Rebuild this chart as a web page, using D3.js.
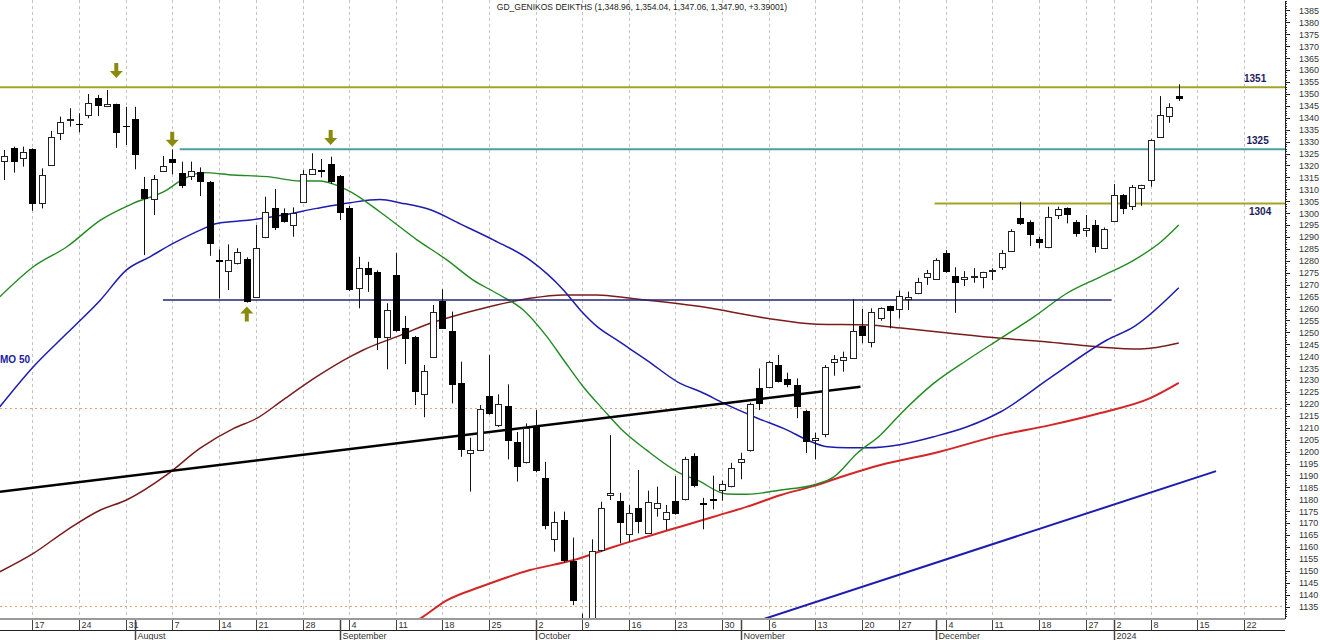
<!DOCTYPE html>
<html lang="en">
<head>
<meta charset="UTF-8">
<title>GD_GENIKOS DEIKTHS</title>
<style>
  body { margin: 0; background: #fff; }
  svg { display: block; font-family: Arial, "Liberation Sans", sans-serif; }
  .axis text { font-size: 9px; fill: #333; }
  .axis path, .axis line { stroke: #222; shape-rendering: crispEdges; }
</style>
</head>
<body>
<svg id="chart" width="1320" height="640"></svg>
<script src="https://cdn.jsdelivr.net/npm/d3@7"></script>
<script>
// trading days (plus the empty days to the right of the last candle)
const dates = [
  "2023-07-12","2023-07-13","2023-07-14","2023-07-17","2023-07-18","2023-07-19","2023-07-20","2023-07-21",
  "2023-07-24","2023-07-25","2023-07-26","2023-07-27","2023-07-28","2023-07-31",
  "2023-08-01","2023-08-02","2023-08-03","2023-08-04","2023-08-07","2023-08-08","2023-08-09","2023-08-10","2023-08-11",
  "2023-08-14","2023-08-16","2023-08-17","2023-08-18","2023-08-21","2023-08-22","2023-08-23","2023-08-24","2023-08-25",
  "2023-08-28","2023-08-29","2023-08-30","2023-08-31",
  "2023-09-01","2023-09-04","2023-09-05","2023-09-06","2023-09-07","2023-09-08","2023-09-11","2023-09-12","2023-09-13",
  "2023-09-14","2023-09-15","2023-09-18","2023-09-19","2023-09-20","2023-09-21","2023-09-22","2023-09-25","2023-09-26",
  "2023-09-27","2023-09-28","2023-09-29",
  "2023-10-02","2023-10-03","2023-10-04","2023-10-05","2023-10-06","2023-10-09","2023-10-10","2023-10-11","2023-10-12",
  "2023-10-13","2023-10-16","2023-10-17","2023-10-18","2023-10-19","2023-10-20","2023-10-23","2023-10-24","2023-10-25",
  "2023-10-26","2023-10-27","2023-10-30","2023-10-31",
  "2023-11-01","2023-11-02","2023-11-03","2023-11-06","2023-11-07","2023-11-08","2023-11-09","2023-11-10","2023-11-13",
  "2023-11-14","2023-11-15","2023-11-16","2023-11-17","2023-11-20","2023-11-21","2023-11-22","2023-11-23","2023-11-27",
  "2023-11-28","2023-11-29","2023-11-30",
  "2023-12-01","2023-12-04","2023-12-05","2023-12-06","2023-12-07","2023-12-08","2023-12-11","2023-12-12","2023-12-13",
  "2023-12-14","2023-12-15","2023-12-18","2023-12-19","2023-12-20","2023-12-21","2023-12-22","2023-12-27","2023-12-28",
  "2023-12-29",
  "2024-01-02","2024-01-03","2024-01-04","2024-01-05","2024-01-08","2024-01-09","2024-01-10","2024-01-11","2024-01-12",
  "2024-01-15","2024-01-16","2024-01-17","2024-01-18","2024-01-19","2024-01-22","2024-01-23","2024-01-24","2024-01-25",
  "2024-01-26"
];

const openP = [1321.9,1327.2,1323.4,1326.9,1304.1,1320.2,1333.5,1339.2,1337.6,1340.9,1348.2,1345.0,1345.7,1336.4,1339.5,
  1310.0,1305.9,1317.7,1322.7,1317.0,1315.7,1317.4,1312.9,1280.2,1275.4,1279.0,1280.8,1264.7,1289.9,1302.0,1300.2,
  1294.7,1304.8,1316.3,1318.1,1320.5,1315.6,1302.0,1268.5,1276.9,1275.4,1248.2,1274.1,1251.9,1248.2,1224.1,1239.8,
  1263.3,1250.7,1228.9,1199.3,1200.6,1223.4,1210.8,1219.2,1204.1,1195.5,1210.4,1189.0,1163.2,1171.3,1154.2,1128.0,
  1124.0,1158.4,1181.8,1179.4,1165.4,1176.2,1165.9,1176.2,1171.7,1179.4,1180.0,1198.1,1178.3,1180.0,1183.6,1185.5,
  1195.7,1200.6,1226.8,1226.9,1236.3,1230.3,1227.9,1217.0,1204.5,1207.4,1237.4,1238.4,1239.4,1252.8,1246.1,1256.3,
  1261.0,1260.1,1264.0,1266.4,1273.3,1272.2,1283.4,1273.8,1272.4,1273.2,1272.9,1276.0,1277.3,1284.2,1298.1,1296.4,
  1289.0,1285.7,1299.2,1302.0,1296.4,1292.6,1295.0,1285.3,1296.7,1307.6,1302.7,1310.4,1313.9,1332.1,1340.7,1348.96];
const highP = [1326.5,1327.9,1327.9,1327.2,1318.8,1334.5,1340.5,1344.0,1341.9,1350.0,1349.6,1351.7,1345.9,1344.6,1344.6,
  1315.2,1316.0,1324.0,1326.8,1321.6,1321.6,1319.2,1313.5,1284.8,1286.9,1285.3,1281.5,1295.0,1306.9,1310.1,1302.0,
  1302.4,1318.1,1325.1,1322.7,1323.7,1316.0,1303.0,1281.7,1279.6,1276.0,1262.2,1283.2,1256.9,1248.5,1236.3,1261.5,
  1268.1,1258.7,1237.7,1205.8,1219.5,1240.5,1224.0,1228.2,1208.2,1211.8,1217.4,1195.7,1174.8,1174.8,1163.9,1132.0,
  1163.2,1179.0,1206.9,1182.7,1177.6,1192.3,1183.6,1185.3,1177.6,1189.7,1197.8,1199.3,1180.6,1189.9,1187.8,1195.3,
  1199.5,1220.5,1234.9,1238.0,1240.5,1233.1,1230.7,1217.5,1207.9,1236.3,1240.5,1241.9,1263.9,1259.8,1260.1,1260.5,
  1261.2,1267.5,1267.1,1272.9,1276.2,1281.1,1284.5,1277.3,1275.7,1276.9,1275.4,1276.9,1284.5,1293.3,1304.8,1297.0,
  1290.1,1302.7,1302.7,1302.4,1297.1,1299.2,1297.1,1294.0,1312.2,1308.0,1311.8,1311.9,1331.0,1349.1,1346.1,1354.04];
const lowP = [1313.9,1317.0,1319.5,1301.0,1302.0,1319.9,1330.7,1336.3,1333.9,1339.8,1340.7,1344.6,1327.4,1328.6,1318.4,
  1282.4,1299.2,1317.5,1316.3,1310.5,1313.9,1307.2,1282.1,1264.2,1267.8,1278.5,1262.5,1264.5,1289.5,1292.9,1296.0,
  1290.1,1304.5,1316.0,1315.0,1312.2,1297.1,1267.3,1260.1,1267.0,1242.6,1234.5,1250.3,1236.7,1219.5,1214.4,1239.5,
  1251.5,1220.2,1197.8,1183.2,1200.2,1215.5,1210.3,1196.7,1187.4,1195.0,1191.3,1167.4,1158.0,1153.5,1135.6,1118.0,
  1120.0,1158.0,1179.7,1161.5,1162.2,1165.7,1165.5,1172.7,1167.1,1173.5,1179.5,1185.0,1167.4,1175.8,1179.4,1185.0,
  1188.4,1200.0,1217.4,1226.5,1229.0,1227.0,1214.0,1199.4,1196.7,1206.0,1231.8,1233.5,1239.0,1245.4,1243.7,1254.9,
  1251.7,1255.9,1259.4,1266.0,1269.9,1272.0,1275.0,1258.2,1269.4,1270.8,1268.5,1271.9,1276.2,1283.8,1295.0,1286.2,
  1285.3,1285.3,1297.5,1295.7,1290.1,1290.1,1283.4,1285.0,1296.5,1299.6,1301.3,1303.1,1311.1,1331.8,1337.9,1347.06];
const closeP = [1324.0,1321.2,1325.8,1303.8,1316.0,1331.8,1338.2,1339.6,1337.2,1346.1,1345.0,1345.8,1333.7,1336.2,1324.4,
  1305.8,1314.3,1319.8,1320.9,1311.7,1317.7,1313.2,1286.8,1279.2,1280.2,1283.6,1262.8,1285.3,1300.4,1293.6,1296.4,
  1299.9,1316.4,1318.5,1317.3,1312.8,1299.9,1267.5,1276.9,1273.8,1247.8,1259.4,1250.7,1247.2,1225.1,1233.8,1258.7,
  1251.7,1228.2,1200.9,1200.6,1217.8,1216.0,1219.8,1204.5,1193.6,1209.7,1191.9,1168.8,1170.3,1154.1,1137.4,1121.0,
  1158.3,1176.2,1182.7,1170.2,1174.1,1170.2,1178.7,1178.5,1174.8,1174.1,1196.7,1185.5,1177.6,1179.0,1186.3,1193.0,
  1196.9,1219.8,1220.2,1237.4,1229.3,1227.6,1218.6,1204.0,1205.5,1235.5,1238.8,1239.5,1250.7,1248.8,1258.7,1260.3,
  1259.1,1265.4,1265.0,1271.2,1275.0,1280.3,1275.4,1270.8,1273.3,1273.5,1275.2,1276.3,1283.2,1292.6,1295.7,1291.1,
  1287.3,1298.3,1301.7,1299.1,1291.2,1293.6,1285.9,1293.2,1307.6,1301.6,1310.8,1311.8,1330.7,1341.2,1344.6,1347.90];

// moving averages: [day index, value]
const maGreen = [[-0.5,1264.9],[3.1,1277.5],[6.7,1285.9],[10.3,1297.1],[13.8,1304.1],[17.4,1309.7],[19.0,1313.9],
  [21.3,1317.0],[24.6,1316.0],[28.2,1315.3],[31.7,1313.5],[33.9,1313.5],[35.3,1312.2],[37.1,1309.0],[40.3,1300.5],
  [44.3,1288.7],[47.5,1280.3],[50.3,1271.9],[52.8,1266.4],[55.7,1259.3],[58.2,1248.2],[60.0,1238.4],[62.1,1227.2],
  [64.3,1217.4],[66.1,1209.7],[68.9,1200.6],[72.5,1190.9],[74.3,1188.1],[77.5,1182.2],[79.7,1182.1],[83.3,1183.9],
  [86.8,1186.0],[89.0,1189.4],[91.5,1199.3],[94.0,1207.0],[96.2,1216.0],[99.7,1228.6],[103.3,1238.4],[106.9,1247.5],
  [110.5,1256.6],[114.0,1266.4],[117.6,1273.3],[121.2,1280.3],[124.1,1288.0],[126.0,1295.0]];
const maBlue = [[-0.5,1218.8],[3.1,1235.6],[6.7,1249.6],[10.3,1263.6],[13.1,1276.2],[15.6,1281.7],[18.1,1287.3],
  [21.0,1292.9],[22.8,1295.7],[26.4,1297.1],[29.9,1299.2],[33.5,1302.0],[37.1,1304.4],[40.3,1305.7],[42.5,1304.3],
  [45.7,1301.4],[48.9,1295.5],[52.5,1288.7],[56.4,1280.3],[60.0,1267.7],[61.8,1259.3],[63.6,1252.4],[65.7,1246.8],
  [68.9,1238.4],[72.5,1228.6],[74.7,1225.1],[77.2,1220.2],[80.8,1214.0],[84.0,1209.0],[86.1,1204.9],[88.3,1202.0],
  [90.4,1201.6],[92.6,1201.6],[96.2,1203.0],[99.7,1206.2],[103.3,1210.4],[106.9,1216.7],[112.2,1230.9],[118.3,1246.8],
  [121.2,1252.4],[126.0,1268.7]];
const maMaroon = [[-0.5,1149.6],[3.1,1157.3],[6.7,1167.1],[10.3,1175.5],[13.1,1179.7],[17.4,1190.2],[21.0,1201.4],
  [24.6,1209.7],[27.1,1214.0],[29.9,1221.7],[33.5,1231.4],[37.1,1239.8],[38.5,1242.6],[42.1,1248.2],[45.7,1253.8],
  [49.3,1258.0],[52.8,1261.5],[56.4,1264.3],[60.0,1265.7],[63.6,1265.7],[67.2,1264.3],[74.7,1260.8],[81.8,1255.9],
  [87.2,1253.4],[92.6,1253.1],[96.2,1251.8],[101.5,1249.6],[106.9,1247.5],[112.2,1245.9],[117.6,1243.8],[121.9,1243.0],
  [126.0,1245.5]];
const maRed = [[42.5,1126.4],[44.3,1129.3],[47.5,1137.7],[51.1,1143.3],[56.4,1150.3],[61.1,1154.5],[65.4,1160.1],
  [68.9,1164.3],[72.5,1168.5],[76.1,1172.7],[79.7,1176.9],[83.3,1181.8],[86.8,1185.5],[90.4,1190.2],[94.0,1194.4],
  [99.7,1199.3],[106.9,1206.9],[112.2,1211.1],[117.6,1216.2],[123.0,1222.5],[126.0,1228.8]];

// drawn trend lines: [start index, start value, end index, end value]
const trendBlack = [-0.5, 1183.1, 91.85, 1227.2];
const trendBlue = [81.1, 1129.3, 130.0, 1191.8];

// horizontal levels
const levelValue = [1352.8, 1326.8, 1304.1, 1263.6];
const levelFrom = [-0.5, 18.8, 99.8, 17.0];
const levelTo = [137.4, 137.4, 137.4, 118.8];
const levelColor = ["#a3a32a", "#4c9fa3", "#a3a32a", "#24247a"];
const levelText = ["1351", "1325", "1304", ""];
const dottedLevels = [1218.3, 1135.1];

// arrows: [day index, tip value, direction]
const arrows = [[12, 1356.7, "down"], [18, 1327.9, "down"], [35, 1328.6, "down"], [26, 1260.8, "up"]];

const title = "GD_GENIKOS DEIKTHS (1,348.96, 1,354.04, 1,347.06, 1,347.90, +3.39001)";

const plotRight = 1285, plotBottom = 618;

const x = d3.scaleLinear().domain([-0.48, 137.4]).range([0, plotRight]);
const y = d3.scaleLinear().domain([1130.2, 1389.4]).range([plotBottom, 0]);

const svg = d3.select("#chart");
svg.append("rect").attr("width", 1320).attr("height", 640).attr("fill", "#fff");

svg.append("defs").append("clipPath").attr("id", "plotClip")
  .append("rect").attr("x", 0).attr("y", 0).attr("width", plotRight).attr("height", plotBottom);

const parse = d3.timeParse("%Y-%m-%d");
const days = dates.map(parse);
const weekStarts = [], monthStarts = [];
days.forEach((d, i) => {
  if (i === 0) return;
  if (d3.timeMonday.floor(d).getTime() !== d3.timeMonday.floor(days[i - 1]).getTime()) weekStarts.push(i);
  if (d.getMonth() !== days[i - 1].getMonth()) monthStarts.push(i);
});
const px = i => Math.round(x(i)) + 0.5;

const plot = svg.append("g").attr("clip-path", "url(#plotClip)");

// vertical dashed grid on the week starts
plot.selectAll(".vgrid").data(weekStarts).enter().append("line")
  .attr("x1", px).attr("x2", px).attr("y1", 0).attr("y2", plotBottom)
  .attr("stroke", "#c4c4c4").attr("stroke-dasharray", "3,3");

// dotted horizontal lines
plot.selectAll(".hdot").data(dottedLevels).enter().append("line")
  .attr("x1", 0).attr("x2", plotRight)
  .attr("y1", d => Math.round(y(d)) + 0.5).attr("y2", d => Math.round(y(d)) + 0.5)
  .attr("stroke", "#d9a47c").attr("stroke-dasharray", "2,3");

// moving averages
const line = d3.line().x(d => x(d[0])).y(d => y(d[1])).curve(d3.curveMonotoneX);
[[maMaroon, "#7a1c1c", 1.5], [maRed, "#d42626", 2], [maBlue, "#1c1cb0", 1.5], [maGreen, "#228a22", 1.4]]
  .forEach(([data, color, w]) => {
    plot.append("path").datum(data).attr("d", line)
      .attr("fill", "none").attr("stroke", color).attr("stroke-width", w);
  });

// horizontal levels
levelValue.forEach((v, k) => {
  plot.append("line")
    .attr("x1", x(levelFrom[k])).attr("x2", x(levelTo[k]))
    .attr("y1", y(v)).attr("y2", y(v))
    .attr("stroke", levelColor[k]).attr("stroke-width", k === 3 ? 1.5 : 2);
});

// trend lines
plot.append("line")
  .attr("x1", x(trendBlack[0])).attr("y1", y(trendBlack[1]))
  .attr("x2", x(trendBlack[2])).attr("y2", y(trendBlack[3]))
  .attr("stroke", "#000").attr("stroke-width", 2.5);
plot.append("line")
  .attr("x1", x(trendBlue[0])).attr("y1", y(trendBlue[1]))
  .attr("x2", x(trendBlue[2])).attr("y2", y(trendBlue[3]))
  .attr("stroke", "#1c1cb0").attr("stroke-width", 2);

// candles
const candles = openP.map((o, i) => ({i, o, h: highP[i], l: lowP[i], c: closeP[i]}));
const cg = plot.selectAll(".candle").data(candles).enter().append("g");
cg.append("line")
  .attr("x1", d => px(d.i)).attr("x2", d => px(d.i))
  .attr("y1", d => y(d.h)).attr("y2", d => y(d.l))
  .attr("stroke", "#111").attr("stroke-width", 1);
cg.append("rect")
  .attr("x", d => Math.round(x(d.i)) - 3 + (d.c >= d.o ? 0.5 : 0))
  .attr("width", d => d.c >= d.o ? 6 : 7)
  .attr("y", d => Math.round(y(Math.max(d.o, d.c))) + (d.c >= d.o ? 0.5 : 0))
  .attr("height", d => Math.max(1, Math.round(Math.abs(y(d.o) - y(d.c)))))
  .attr("fill", d => d.c >= d.o ? "#fff" : "#000")
  .attr("stroke", d => d.c >= d.o ? "#222" : "none");

// arrows
plot.selectAll(".arrow").data(arrows).enter().append("path")
  .attr("d", d => {
    const cx = x(d[0]), ty = y(d[1]), s = d[2] === "down" ? -1 : 1;
    const pts = [[cx - 2, ty + s * 15], [cx + 2, ty + s * 15], [cx + 2, ty + s * 7], [cx + 6.5, ty + s * 7],
      [cx, ty], [cx - 6.5, ty + s * 7], [cx - 2, ty + s * 7]];
    return "M" + pts.map(p => p.join(",")).join("L") + "Z";
  })
  .attr("fill", "#8a8a0c");

// level labels
levelValue.forEach((v, k) => {
  if (!levelText[k]) return;
  plot.append("text")
    .attr("x", 1244 + k * 2.5).attr("y", y(v) + (k === 2 ? 12 : -5))
    .style("font-size", "10px").style("font-weight", "bold").attr("fill", "#1c1c5c")
    .text(levelText[k]);
});

plot.append("text").attr("x", 0).attr("y", 363)
  .style("font-size", "10px").style("font-weight", "bold").attr("fill", "#2020a0")
  .text("MO 50");

// title
svg.append("text").attr("x", 642).attr("y", 10).attr("text-anchor", "middle")
  .style("font-size", "8.5px").attr("fill", "#222").text(title);

// right price axis
svg.append("g").attr("class", "axis").attr("transform", "translate(" + plotRight + ",0)")
  .call(d3.axisRight(y).tickValues(d3.range(1131, 1390, 1)).tickSize(2).tickSizeOuter(0).tickFormat(""));
svg.append("g").attr("class", "axis").attr("transform", "translate(" + plotRight + ",0)")
  .call(d3.axisRight(y).tickValues(d3.range(1135, 1390, 5)).tickSize(5).tickSizeOuter(0)
    .tickPadding(9).tickFormat(d3.format("d")))
  .call(g => g.select(".domain").remove());

// bottom date axis
svg.append("line").attr("x1", 0).attr("x2", plotRight).attr("y1", 619).attr("y2", 619)
  .attr("stroke", "#9a9a9a").attr("stroke-width", 2);
svg.append("line").attr("x1", 0).attr("x2", plotRight).attr("y1", 630.5).attr("y2", 630.5)
  .attr("stroke", "#222");
svg.selectAll(".wtick").data(weekStarts).enter().append("line")
  .attr("x1", px).attr("x2", px).attr("y1", 620).attr("y2", 630)
  .attr("stroke", "#444");
svg.selectAll(".wlabel").data(weekStarts).enter().append("text")
  .attr("x", i => px(i) + 2).attr("y", 628)
  .style("font-size", "9px").attr("fill", "#333")
  .text(i => days[i].getDate());
svg.selectAll(".mtick").data(monthStarts).enter().append("line")
  .attr("x1", px).attr("x2", px).attr("y1", 620).attr("y2", 640)
  .attr("stroke", "#444").attr("stroke-width", 1.5);
svg.selectAll(".mlabel").data(monthStarts).enter().append("text")
  .attr("x", i => px(i) + 2).attr("y", 639)
  .style("font-size", "9px").attr("fill", "#333")
  .text(i => days[i].getMonth() === 0 ? d3.timeFormat("%Y")(days[i]) : d3.timeFormat("%B")(days[i]));
</script>
</body>
</html>
